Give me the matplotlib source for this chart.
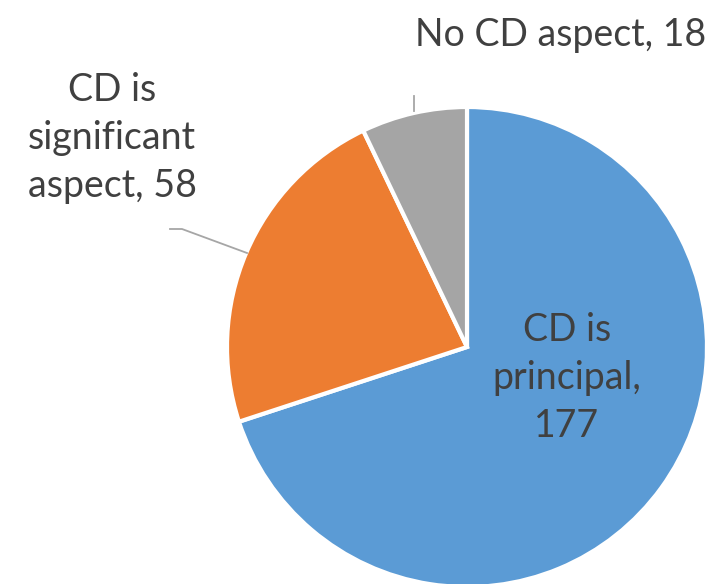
import matplotlib
matplotlib.use("Agg")
import matplotlib.pyplot as plt

categories = ["CD is principal", "CD is significant aspect", "No CD aspect"]
values = [177, 58, 18]
labels = ["CD is\nprincipal,\n177", "CD is\nsignificant\naspect, 58", "No CD aspect, 18"]
colors = ["#5B9BD5", "#ED7D31", "#A5A5A5"]

H = 584
fig = plt.figure(figsize=(7.12, 5.84), dpi=100)
ax = fig.add_axes([0, 0, 1, 1])
ax.set_xlim(0, 712)
ax.set_ylim(0, H)
ax.set_aspect("equal")
ax.axis("off")

cx, cy, r = 467, H - 347, 240
ax.pie(values, colors=colors, startangle=90, counterclock=False,
       center=(cx, cy), radius=r, frame=True,
       wedgeprops=dict(edgecolor="white", linewidth=3))
ax.set_xlim(0, 712)
ax.set_ylim(0, H)
ax.axis("off")

font = dict(family="Lato", color="#404040", fontsize=27, linespacing=1.42)
ax.text(567, H - 378, labels[0], ha="center", va="center", **font)
ax.text(112, H - 138, labels[1], ha="center", va="center", **font)
ax.text(561, H - 35, labels[2], ha="center", va="center", **font)

# leader lines
ax.plot([170, 182, 247], [H - 229, H - 229, H - 253], color="#A6A6A6", lw=1.3)
ax.plot([414, 414], [H - 96, H - 111], color="#A6A6A6", lw=1.3)

fig.savefig("out.png", dpi=100)
